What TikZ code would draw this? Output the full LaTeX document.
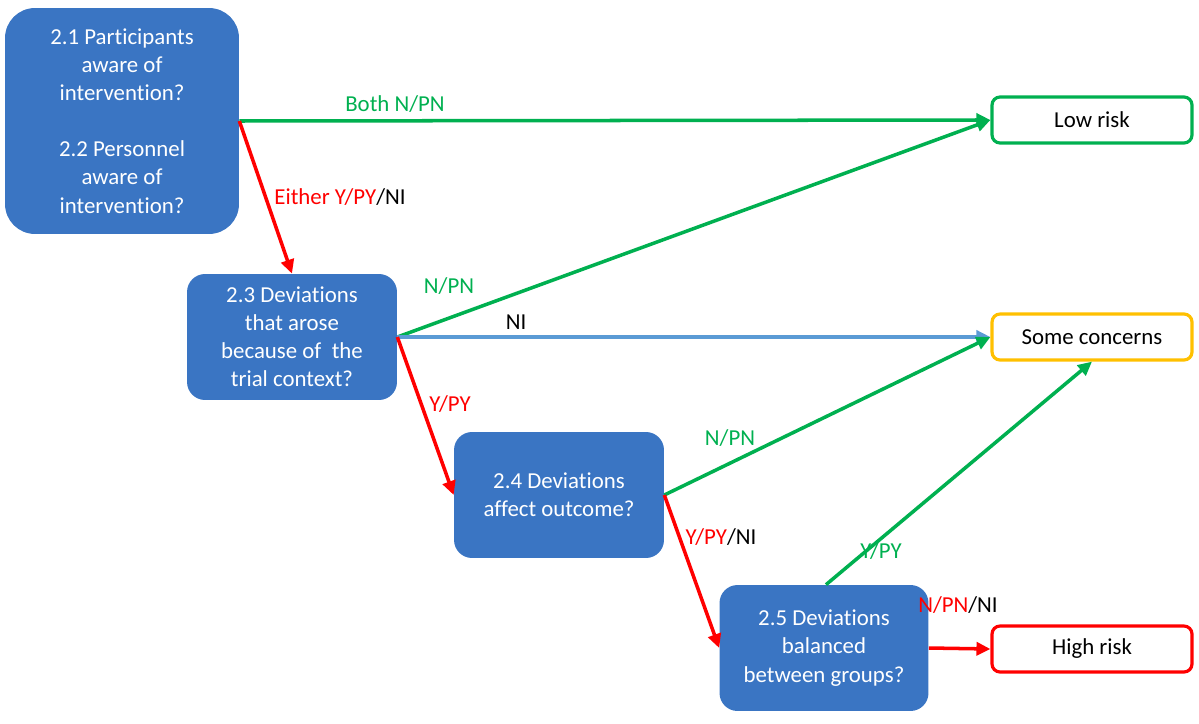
\documentclass[tikz,border=0pt]{standalone}
\usepackage{fontspec}
\setmainfont[Ligatures={NoCommon,NoContextual,NoRare}, Contextuals={NoAlternate}]{Carlito}
\usepackage{tikz}
\usetikzlibrary{arrows.meta}

\definecolor{qblue}{RGB}{58,117,195}
\definecolor{okgreen}{RGB}{0,176,80}
\definecolor{warnorange}{RGB}{255,192,0}
\definecolor{nilblue}{RGB}{91,155,213}
\definecolor{badred}{RGB}{255,0,0}

\begin{document}
\begin{tikzpicture}[x=0.02cm, y=-0.02cm,
        question/.style={draw=none, fill=qblue, text=white, rounded corners=0.36cm, align=center,
            minimum width=4.2cm, minimum height=2.52cm, inner sep=2pt,
            font=\fontsize{13}{16}\selectfont},
        verdict/.style={draw, line width=1.8pt, fill=white, rounded corners=0.16cm,
            minimum width=4cm, minimum height=0.92cm, inner sep=2pt,
            font=\fontsize{13}{16}\selectfont},
        answer/.style={font=\fontsize{13}{16}\selectfont, inner sep=1pt},
        route/.style={line width=2pt, -{Triangle[length=0.28cm, width=0.26cm]}}]
    \useasboundingbox (0,0) rectangle (1199,723);

    % questions
    \node[question, rounded corners=0.6cm, minimum width=4.68cm, minimum height=4.52cm] (q21) at (122,121)
        {2.1 Participants\\aware of\\intervention?\\[16pt]2.2 Personnel\\aware of\\intervention?};
    \node[question] (q23) at (292,337) {2.3 Deviations\\that arose\\because of~ the\\trial context?};
    \node[question] (q24) at (559,495) {2.4 Deviations\\affect outcome?};
    \node[question, minimum width=4.18cm] (q25) at (824,648) {2.5 Deviations\\balanced\\between groups?};

    % judgements
    \node[verdict, draw=okgreen] (low) at (1092,120) {Low risk};
    \node[verdict, draw=warnorange] (some) at (1092,337) {Some concerns};
    \node[verdict, draw=badred] (high) at (1092,649) {High risk};

    % arrows
    \draw[route, okgreen] (q21.east) -- (low.west);
    \draw[route, badred] (q21.east) -- (q23.north);
    \draw[route, okgreen] (q23.east) -- (low.west);
    \draw[route, nilblue] (q23.east) -- (some.west);
    \draw[route, badred] (q23.east) -- (q24.west);
    \draw[route, okgreen] (q24.east) -- (some.west);
    \draw[route, badred] (q24.east) -- (q25.west);
    \draw[route, okgreen] ([xshift=0.04cm]q25.north) -- (some.south);
    \draw[route, badred] (q25.east) -- (high.west);

    % answers
    \node[answer, text=okgreen] (a1) at (395,104) {Both N/PN};
    \node[answer] (a2) at (340,197) {\textcolor{badred}{Either Y/PY}/NI};
    \node[answer, text=okgreen] (a3) at (449,286) {N/PN};
    \node[answer] (a4) at (516,322) {NI};
    \node[answer, text=badred] (a5) at (450,404) {Y/PY};
    \node[answer, text=okgreen] (a6) at (730,438) {N/PN};
    \node[answer] (a7) at (721,537) {\textcolor{badred}{Y/PY}/NI};
    \node[answer, text=okgreen] (a8) at (881,551) {Y/PY};
    \node[answer] (a9) at (958,605) {\textcolor{badred}{N/PN}/NI};
\end{tikzpicture}
\end{document}
